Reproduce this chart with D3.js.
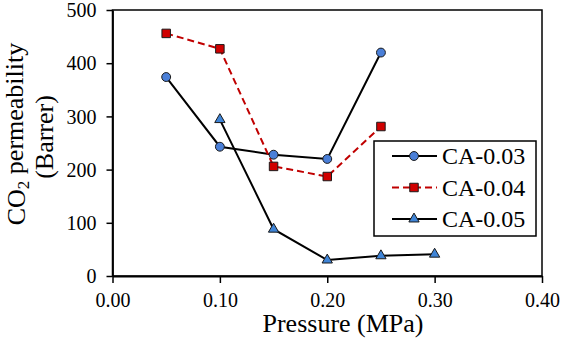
<!DOCTYPE html>
<html>
<head>
<meta charset="utf-8">
<script src="https://cdn.jsdelivr.net/npm/d3@7"></script>
<style>
  svg text { font-family: 'Liberation Serif', Tinos, Times, serif !important; }
</style>
</head>
<body style="margin:0">
<div id="chart"></div>
<script>
// Data
const pressures03 = [0.05, 0.10, 0.15, 0.20, 0.25];
const values03 = [374, 243, 228, 220, 420];
const pressures04 = [0.05, 0.10, 0.15, 0.20, 0.25];
const values04 = [456, 427, 206, 187, 281];
const pressures05 = [0.10, 0.15, 0.20, 0.25, 0.30];
const values05 = [294, 88, 30, 38, 41];
const seriesNames = ["CA-0.03", "CA-0.04", "CA-0.05"];
const xTicks = [0, 0.1, 0.2, 0.3, 0.4];
const yTicks = [0, 100, 200, 300, 400, 500];

const fontFam = "'Liberation Serif', Tinos, Times, serif";

const W = 562, H = 340;
const margin = { top: 10, right: 20, bottom: 64, left: 112.5 };
const width = W - margin.left - margin.right;
const height = H - margin.top - margin.bottom;

const svg = d3.select("#chart").append("svg")
    .attr("width", W)
    .attr("height", H)
    .style("font-family", fontFam);

const g = svg.append("g")
    .attr("transform", `translate(${margin.left},${margin.top})`);

const x = d3.scaleLinear().domain([0, 0.4]).range([0, width]);
const y = d3.scaleLinear().domain([0, 500]).range([height, 0]);

// frame
g.append("rect")
    .attr("width", width).attr("height", height)
    .attr("fill", "none").attr("stroke", "#000").attr("stroke-width", 1.5);

// axes
const xAxis = g.append("g")
    .attr("transform", `translate(0,${height})`)
    .call(d3.axisBottom(x).tickValues(xTicks).tickFormat(d3.format(".2f")).tickSize(7).tickSizeOuter(0));
const yAxis = g.append("g")
    .call(d3.axisLeft(y).tickValues(yTicks).tickSize(6).tickSizeOuter(0));

[xAxis, yAxis].forEach(a => {
    a.attr("font-family", null).attr("font-size", null);
    a.select(".domain").attr("stroke", "#000").attr("stroke-width", 1.8);
    a.selectAll(".tick line").attr("stroke", "#000").attr("stroke-width", 1.5);
    a.selectAll(".tick text")
        .attr("fill", "#000")
        .style("font-family", fontFam)
        .style("font-size", "20px");
});
xAxis.selectAll(".tick text").attr("y", 31).attr("dy", null);
yAxis.selectAll(".tick text").attr("x", -16).attr("dy", "0.33em");

// axis titles
svg.append("text")
    .attr("x", 343)
    .attr("y", 332)
    .attr("text-anchor", "middle")
    .style("font-family", fontFam)
    .style("font-size", "26px")
    .text("Pressure (MPa)");

const yTitle1 = svg.append("text")
    .attr("transform", "translate(25,134) rotate(-90)")
    .attr("text-anchor", "middle")
    .style("font-family", fontFam)
    .style("font-size", "26px");
yTitle1.append("tspan").text("CO");
yTitle1.append("tspan").attr("dy", "0.25em").style("font-size", "17px").text("2");
yTitle1.append("tspan").attr("dy", "-0.25em").text(" permeability");

svg.append("text")
    .attr("transform", "translate(53,137) rotate(-90)")
    .attr("text-anchor", "middle")
    .style("font-family", fontFam)
    .style("font-size", "26px")
    .text("(Barrer)");

const series = [
    { name: seriesNames[0], xs: pressures03, ys: values03, stroke: "#000", dash: null, shape: "circle" },
    { name: seriesNames[1], xs: pressures04, ys: values04, stroke: "#c00000", dash: "7,4", shape: "square" },
    { name: seriesNames[2], xs: pressures05, ys: values05, stroke: "#000", dash: null, shape: "triangle" }
];

const markerFill = { circle: "#4a7fd8", square: "#d00000", triangle: "#3f84d6" };
const symbolType = { circle: d3.symbolCircle, square: d3.symbolSquare, triangle: d3.symbolTriangle };
const symbolSize = { circle: 62, square: 72, triangle: 46 };

const line = d3.line().x(d => x(d[0])).y(d => y(d[1]));

series.forEach(s => {
    const pts = s.xs.map((v, i) => [v, s.ys[i]]);
    g.append("path")
        .datum(pts)
        .attr("fill", "none")
        .attr("stroke", s.stroke)
        .attr("stroke-width", 2)
        .attr("stroke-dasharray", s.dash)
        .attr("d", line);
});

series.forEach(s => {
    const pts = s.xs.map((v, i) => [v, s.ys[i]]);
    g.selectAll(null)
        .data(pts)
        .enter()
        .append("path")
        .attr("transform", d => `translate(${x(d[0])},${y(d[1])})`)
        .attr("d", d3.symbol().type(symbolType[s.shape]).size(symbolSize[s.shape]))
        .attr("fill", markerFill[s.shape])
        .attr("stroke", "#1a1a1a")
        .attr("stroke-width", 1);
});

// legend
const lg = svg.append("g").attr("transform", "translate(374,141)");
lg.append("rect")
    .attr("width", 162).attr("height", 95)
    .attr("fill", "#fff").attr("stroke", "#000").attr("stroke-width", 1.5);

series.forEach((s, i) => {
    const cy = 15 + i * 31.5;
    lg.append("line")
        .attr("x1", 18).attr("x2", 63)
        .attr("y1", cy).attr("y2", cy)
        .attr("stroke", s.stroke).attr("stroke-width", 2)
        .attr("stroke-dasharray", s.dash);
    lg.append("path")
        .attr("transform", `translate(40,${cy})`)
        .attr("d", d3.symbol().type(symbolType[s.shape]).size(symbolSize[s.shape]))
        .attr("fill", markerFill[s.shape])
        .attr("stroke", "#1a1a1a")
        .attr("stroke-width", 1);
    lg.append("text")
        .attr("x", 68).attr("y", cy)
        .attr("dy", "0.35em")
        .style("font-family", fontFam)
        .style("font-size", "24px")
        .text(s.name);
});
</script>
</body>
</html>
